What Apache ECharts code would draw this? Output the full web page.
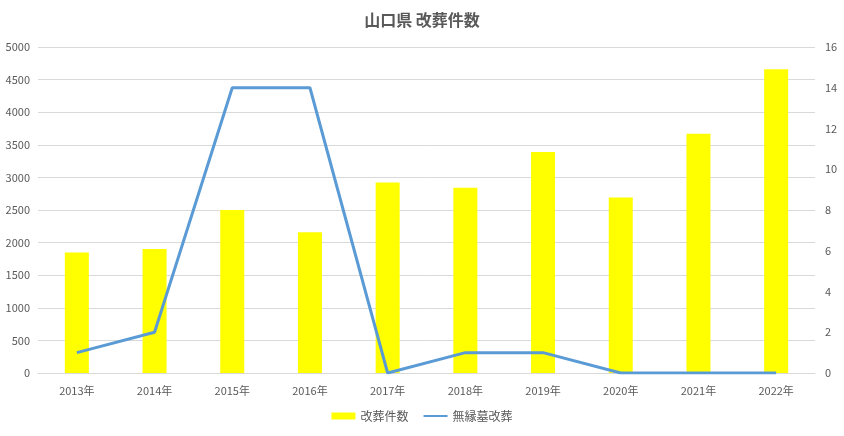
<!DOCTYPE html>
<html><head><meta charset="utf-8">
<script src="https://cdn.jsdelivr.net/npm/echarts@6/dist/echarts.min.js"></script>
<style>html,body{margin:0;padding:0;background:#fff}#c{width:844px;height:436px}</style>
</head><body><div id="c"></div>
<script>
const categories = ['2013年','2014年','2015年','2016年','2017年','2018年','2019年','2020年','2021年','2022年'];
const kaisouCount = [1850, 1900, 2500, 2160, 2920, 2840, 3390, 2690, 3670, 4660];
const muenboKaisou = [1, 2, 14, 14, 0, 1, 1, 0, 0, 0];
const seriesNames = ['改葬件数', '無縁墓改葬'];
const titleText = '山口県 改葬件数';

const font = '"Noto Sans CJK JP", "Noto Sans", sans-serif';
const chart = echarts.init(document.getElementById('c'));
chart.setOption({
  animation: false,
  textStyle: {fontFamily: font},
  title: {text: titleText, left: 'center', top: 7,
    textStyle: {fontSize: 16, fontWeight: 'bold', color: '#595959', fontFamily: font}},
  legend: {bottom: 9, itemGap: 14, itemWidth: 24, itemHeight: 7,
    textStyle: {fontSize: 12, color: '#595959', fontFamily: font},
    data: [{name: seriesNames[0], icon: 'rect'}, {name: seriesNames[1], itemStyle: {opacity: 0}}]},
  grid: {left: 38, right: 29, top: 47, bottom: 63, containLabel: false},
  xAxis: {type: 'category', data: categories,
    axisLine: {show: true, lineStyle: {color: '#d9d9d9'}}, axisTick: {show: false},
    axisLabel: {color: '#595959', fontSize: 11, margin: 12}},
  yAxis: [
    {type: 'value', min: 0, max: 5000, interval: 500,
      axisLine: {show: false}, axisTick: {show: false},
      axisLabel: {color: '#595959', fontSize: 11, margin: 8, formatter: v => String(v)},
      splitLine: {lineStyle: {color: '#d9d9d9'}}},
    {type: 'value', min: 0, max: 16, interval: 2,
      axisLine: {show: false}, axisTick: {show: false},
      axisLabel: {color: '#595959', fontSize: 11, margin: 10},
      splitLine: {show: false}}
  ],
  series: [
    {name: seriesNames[0], type: 'bar', data: kaisouCount, barWidth: 24,
      itemStyle: {color: '#FFFF00'}},
    {name: seriesNames[1], type: 'line', yAxisIndex: 1, data: muenboKaisou,
      symbol: 'none', lineStyle: {color: '#5B9BD5', width: 3}, itemStyle: {color: '#5B9BD5'}}
  ]
});
</script></body></html>
